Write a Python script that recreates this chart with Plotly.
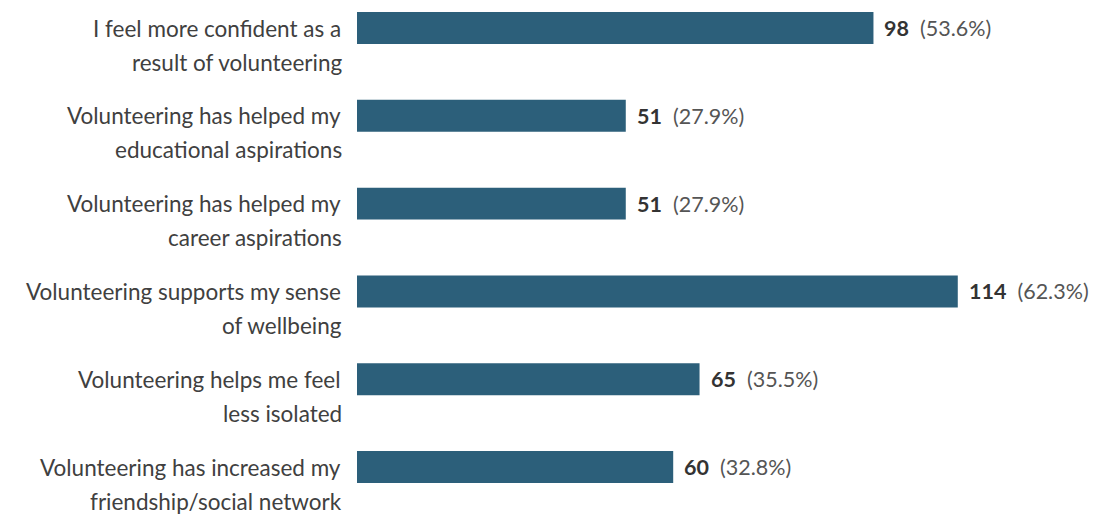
import plotly.graph_objects as go

label_line1 = [
    "I feel more confident as a",
    "Volunteering has helped my",
    "Volunteering has helped my",
    "Volunteering supports my sense",
    "Volunteering helps me feel",
    "Volunteering has increased my",
]
label_line2 = [
    "result of volunteering",
    "educational aspirations",
    "career aspirations",
    "of wellbeing",
    "less isolated",
    "friendship/social network",
]
counts = [98, 51, 51, 114, 65, 60]
percents = [53.6, 27.9, 27.9, 62.3, 35.5, 32.8]

cats = [f"c{i}" for i in range(len(counts))]

BAR = "#2c5f7a"
TXT = "#404040"
FONT = "Lato"

fig = go.Figure()
fig.add_trace(go.Bar(
    x=counts, y=cats, orientation="h",
    marker=dict(color=BAR, line=dict(width=0)),
    hoverinfo="skip",
))

annotations = []
for c, l1, l2, n, p in zip(cats, label_line1, label_line2, counts, percents):
    annotations.append(dict(x=0, xref="paper", y=c, yref="y", text=l1,
                            xanchor="right", yanchor="middle", xshift=-14, yshift=0,
                            showarrow=False, font=dict(family=FONT, size=22.5, color=TXT)))
    annotations.append(dict(x=0, xref="paper", y=c, yref="y", text=l2,
                            xanchor="right", yanchor="middle", xshift=-13, yshift=-34,
                            showarrow=False, font=dict(family=FONT, size=22.5, color=TXT)))
    annotations.append(dict(x=n, xref="x", y=c, yref="y",
                            text=f"<b>{n}</b>  <span style='color:#555555'>({p}%)</span>",
                            xanchor="left", yanchor="middle", xshift=9,
                            showarrow=False, font=dict(family=FONT, size=21.5, color="#333333")))

fig.update_layout(
    width=1093, height=506,
    margin=dict(l=349, r=20, t=0, b=0),
    paper_bgcolor="white", plot_bgcolor="white",
    bargap=0.636,
    showlegend=False,
    xaxis=dict(range=[0, 724 / 5.27], visible=False, fixedrange=True),
    yaxis=dict(categoryorder="array", categoryarray=cats, range=[5.535, -0.228],
               visible=False, fixedrange=True),
    annotations=annotations,
)

fig.write_html("out.html", config={"displayModeBar": False})
